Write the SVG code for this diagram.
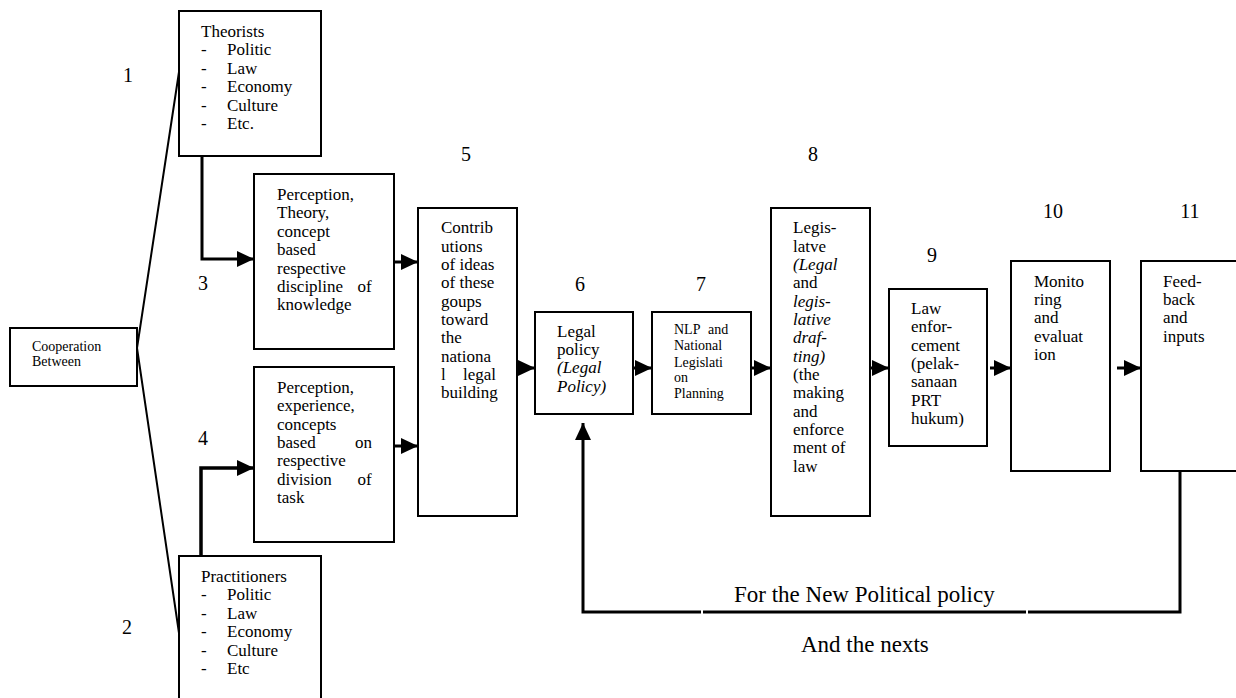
<svg xmlns="http://www.w3.org/2000/svg" width="1236" height="698" viewBox="0 0 1236 698">
<style>
.box{fill:#fff;stroke:#000;stroke-width:2}
.t{font-family:"Liberation Serif","Times New Roman",serif;font-size:17px;fill:#000}
.s{font-family:"Liberation Serif","Times New Roman",serif;font-size:14px;fill:#000}
.n{font-family:"Liberation Serif","Times New Roman",serif;font-size:20px;fill:#000}
.b{font-family:"Liberation Serif","Times New Roman",serif;font-size:23px;fill:#000}
.i{font-style:italic}
.c{fill:none;stroke:#000;stroke-width:3}
.thin{fill:none;stroke:#000;stroke-width:2}
</style>
<defs>
<marker id="arr" markerUnits="userSpaceOnUse" markerWidth="17" markerHeight="16" refX="17" refY="8" orient="auto">
<path d="M0,0 L17,8 L0,16 Z" fill="#000"/>
</marker>
</defs>
<rect width="1236" height="698" fill="#fff"/>

<g id="connectors">
<path class="thin" d="M179,72 L137,348 L179,633"/>
<path class="c" d="M202,156 V259 H254" marker-end="url(#arr)"/>
<path class="c" style="stroke-width:3.5" d="M201,556 V468 H254" marker-end="url(#arr)"/>
<path class="c" d="M394,262 H418" marker-end="url(#arr)"/>
<path class="c" d="M394,446 H418" marker-end="url(#arr)"/>
<path class="c" d="M517,368 H535" marker-end="url(#arr)"/>
<path class="c" d="M633,368 H652" marker-end="url(#arr)"/>
<path class="c" d="M751,368 H771" marker-end="url(#arr)"/>
<path class="c" d="M870,368 H889" marker-end="url(#arr)"/>
<path class="c" d="M990,368 H1011" marker-end="url(#arr)"/>
<path class="c" d="M1117,368 H1141" marker-end="url(#arr)"/>
<path class="c" d="M1180,471 V612 H1028"/>
<path class="c" d="M1026,612 H703"/>
<path class="c" d="M701,612 H583 V423" marker-end="url(#arr)"/>
</g>

<g id="labels">
<text class="n" x="123" y="82">1</text>
<text class="n" x="122" y="634">2</text>
<text class="n" x="198" y="290">3</text>
<text class="n" x="198" y="445">4</text>
<text class="n" x="466" y="161" text-anchor="middle">5</text>
<text class="n" x="580" y="291" text-anchor="middle">6</text>
<text class="n" x="701" y="291" text-anchor="middle">7</text>
<text class="n" x="813" y="161" text-anchor="middle">8</text>
<text class="n" x="932" y="262" text-anchor="middle">9</text>
<text class="n" x="1053" y="218" text-anchor="middle">10</text>
<text class="n" x="1190" y="218" text-anchor="middle">11</text>
<text class="b" x="734" y="602">For the New Political policy</text>
<text class="b" x="801" y="652">And the nexts</text>
</g>

<g id="cooperation">
<rect class="box" x="10" y="328" width="127" height="58"/>
<text class="s" x="32" y="351">Cooperation</text>
<text class="s" x="32" y="366">Between</text>
</g>

<g id="theorists">
<rect class="box" x="179" y="11" width="142" height="145"/>
<text class="t" x="201" y="37">Theorists</text>
<text class="t" x="201" y="55">-</text><text class="t" x="227" y="55">Politic</text>
<text class="t" x="201" y="73.5">-</text><text class="t" x="227" y="73.5">Law</text>
<text class="t" x="201" y="92">-</text><text class="t" x="227" y="92">Economy</text>
<text class="t" x="201" y="110.5">-</text><text class="t" x="227" y="110.5">Culture</text>
<text class="t" x="201" y="129">-</text><text class="t" x="227" y="129">Etc.</text>
</g>

<g id="practitioners">
<rect class="box" x="179" y="556" width="142" height="160"/>
<text class="t" x="201" y="582">Practitioners</text>
<text class="t" x="201" y="600">-</text><text class="t" x="227" y="600">Politic</text>
<text class="t" x="201" y="618.5">-</text><text class="t" x="227" y="618.5">Law</text>
<text class="t" x="201" y="637">-</text><text class="t" x="227" y="637">Economy</text>
<text class="t" x="201" y="655.5">-</text><text class="t" x="227" y="655.5">Culture</text>
<text class="t" x="201" y="674">-</text><text class="t" x="227" y="674">Etc</text>
</g>

<g id="box3">
<rect class="box" x="254" y="174" width="140" height="175"/>
<text class="t" x="277" y="200">Perception,</text>
<text class="t" x="277" y="218.4">Theory,</text>
<text class="t" x="277" y="236.8">concept</text>
<text class="t" x="277" y="255.2">based</text>
<text class="t" x="277" y="273.6">respective</text>
<text class="t" x="277" y="292">discipline</text><text class="t" x="357.5" y="292">of</text>
<text class="t" x="277" y="310.4">knowledge</text>
</g>

<g id="box4">
<rect class="box" x="254" y="367" width="140" height="175"/>
<text class="t" x="277" y="392.7">Perception,</text>
<text class="t" x="277" y="411.1">experience,</text>
<text class="t" x="277" y="429.5">concepts</text>
<text class="t" x="277" y="447.9">based</text><text class="t" x="355" y="447.9">on</text>
<text class="t" x="277" y="466.3">respective</text>
<text class="t" x="277" y="484.7">division</text><text class="t" x="357.5" y="484.7">of</text>
<text class="t" x="277" y="503.1">task</text>
</g>

<g id="box5">
<rect class="box" x="418" y="208" width="99" height="308"/>
<text class="t" x="441" y="233.3">Contrib</text>
<text class="t" x="441" y="251.7">utions</text>
<text class="t" x="441" y="270">of ideas</text>
<text class="t" x="441" y="288.4">of these</text>
<text class="t" x="441" y="306.7">goups</text>
<text class="t" x="441" y="325">toward</text>
<text class="t" x="441" y="343.4">the</text>
<text class="t" x="441" y="361.7">nationa</text>
<text class="t" x="441" y="380">l</text><text class="t" x="463" y="380">legal</text>
<text class="t" x="441" y="398.4">building</text>
</g>

<g id="box6">
<rect class="box" x="535" y="312" width="98" height="102"/>
<text class="t" x="557" y="336.7">Legal</text>
<text class="t" x="557" y="355">policy</text>
<text class="t i" x="557" y="373.4">(Legal</text>
<text class="t i" x="557" y="391.7">Policy)</text>
</g>

<g id="box7">
<rect class="box" x="652" y="312" width="99" height="102"/>
<text class="s" x="674" y="334.3">NLP</text><text class="s" x="708" y="334.3">and</text>
<text class="s" x="674" y="350">National</text>
<text class="s" x="674" y="366.7">Legislati</text>
<text class="s" x="674" y="382.3">on</text>
<text class="s" x="674" y="398">Planning</text>
</g>

<g id="box8">
<rect class="box" x="771" y="208" width="99" height="308"/>
<text class="t" x="793" y="233.3">Legis-</text>
<text class="t" x="793" y="251.7">latve</text>
<text class="t i" x="793" y="270">(Legal</text>
<text class="t" x="793" y="288.4">and</text>
<text class="t i" x="793" y="306.7">legis-</text>
<text class="t i" x="793" y="325">lative</text>
<text class="t i" x="793" y="343.4">draf-</text>
<text class="t i" x="793" y="361.7">ting)</text>
<text class="t" x="793" y="380">(the</text>
<text class="t" x="793" y="398.4">making</text>
<text class="t" x="793" y="416.7">and</text>
<text class="t" x="793" y="435">enforce</text>
<text class="t" x="793" y="453.4">ment of</text>
<text class="t" x="793" y="471.7">law</text>
</g>

<g id="box9">
<rect class="box" x="889" y="289" width="98" height="157"/>
<text class="t" x="911" y="314">Law</text>
<text class="t" x="911" y="332.3">enfor-</text>
<text class="t" x="911" y="350.7">cement</text>
<text class="t" x="911" y="369">(pelak-</text>
<text class="t" x="911" y="387.3">sanaan</text>
<text class="t" x="911" y="405.7">PRT</text>
<text class="t" x="911" y="424">hukum)</text>
</g>

<g id="box10">
<rect class="box" x="1011" y="261" width="99" height="210"/>
<text class="t" x="1034" y="286.7">Monito</text>
<text class="t" x="1034" y="305">ring</text>
<text class="t" x="1034" y="323.3">and</text>
<text class="t" x="1034" y="341.7">evaluat</text>
<text class="t" x="1034" y="360">ion</text>
</g>

<g id="box11">
<rect class="box" x="1141" y="261" width="99" height="210"/>
<text class="t" x="1163" y="286.7">Feed-</text>
<text class="t" x="1163" y="305">back</text>
<text class="t" x="1163" y="323.3">and</text>
<text class="t" x="1163" y="341.7">inputs</text>
</g>
</svg>
